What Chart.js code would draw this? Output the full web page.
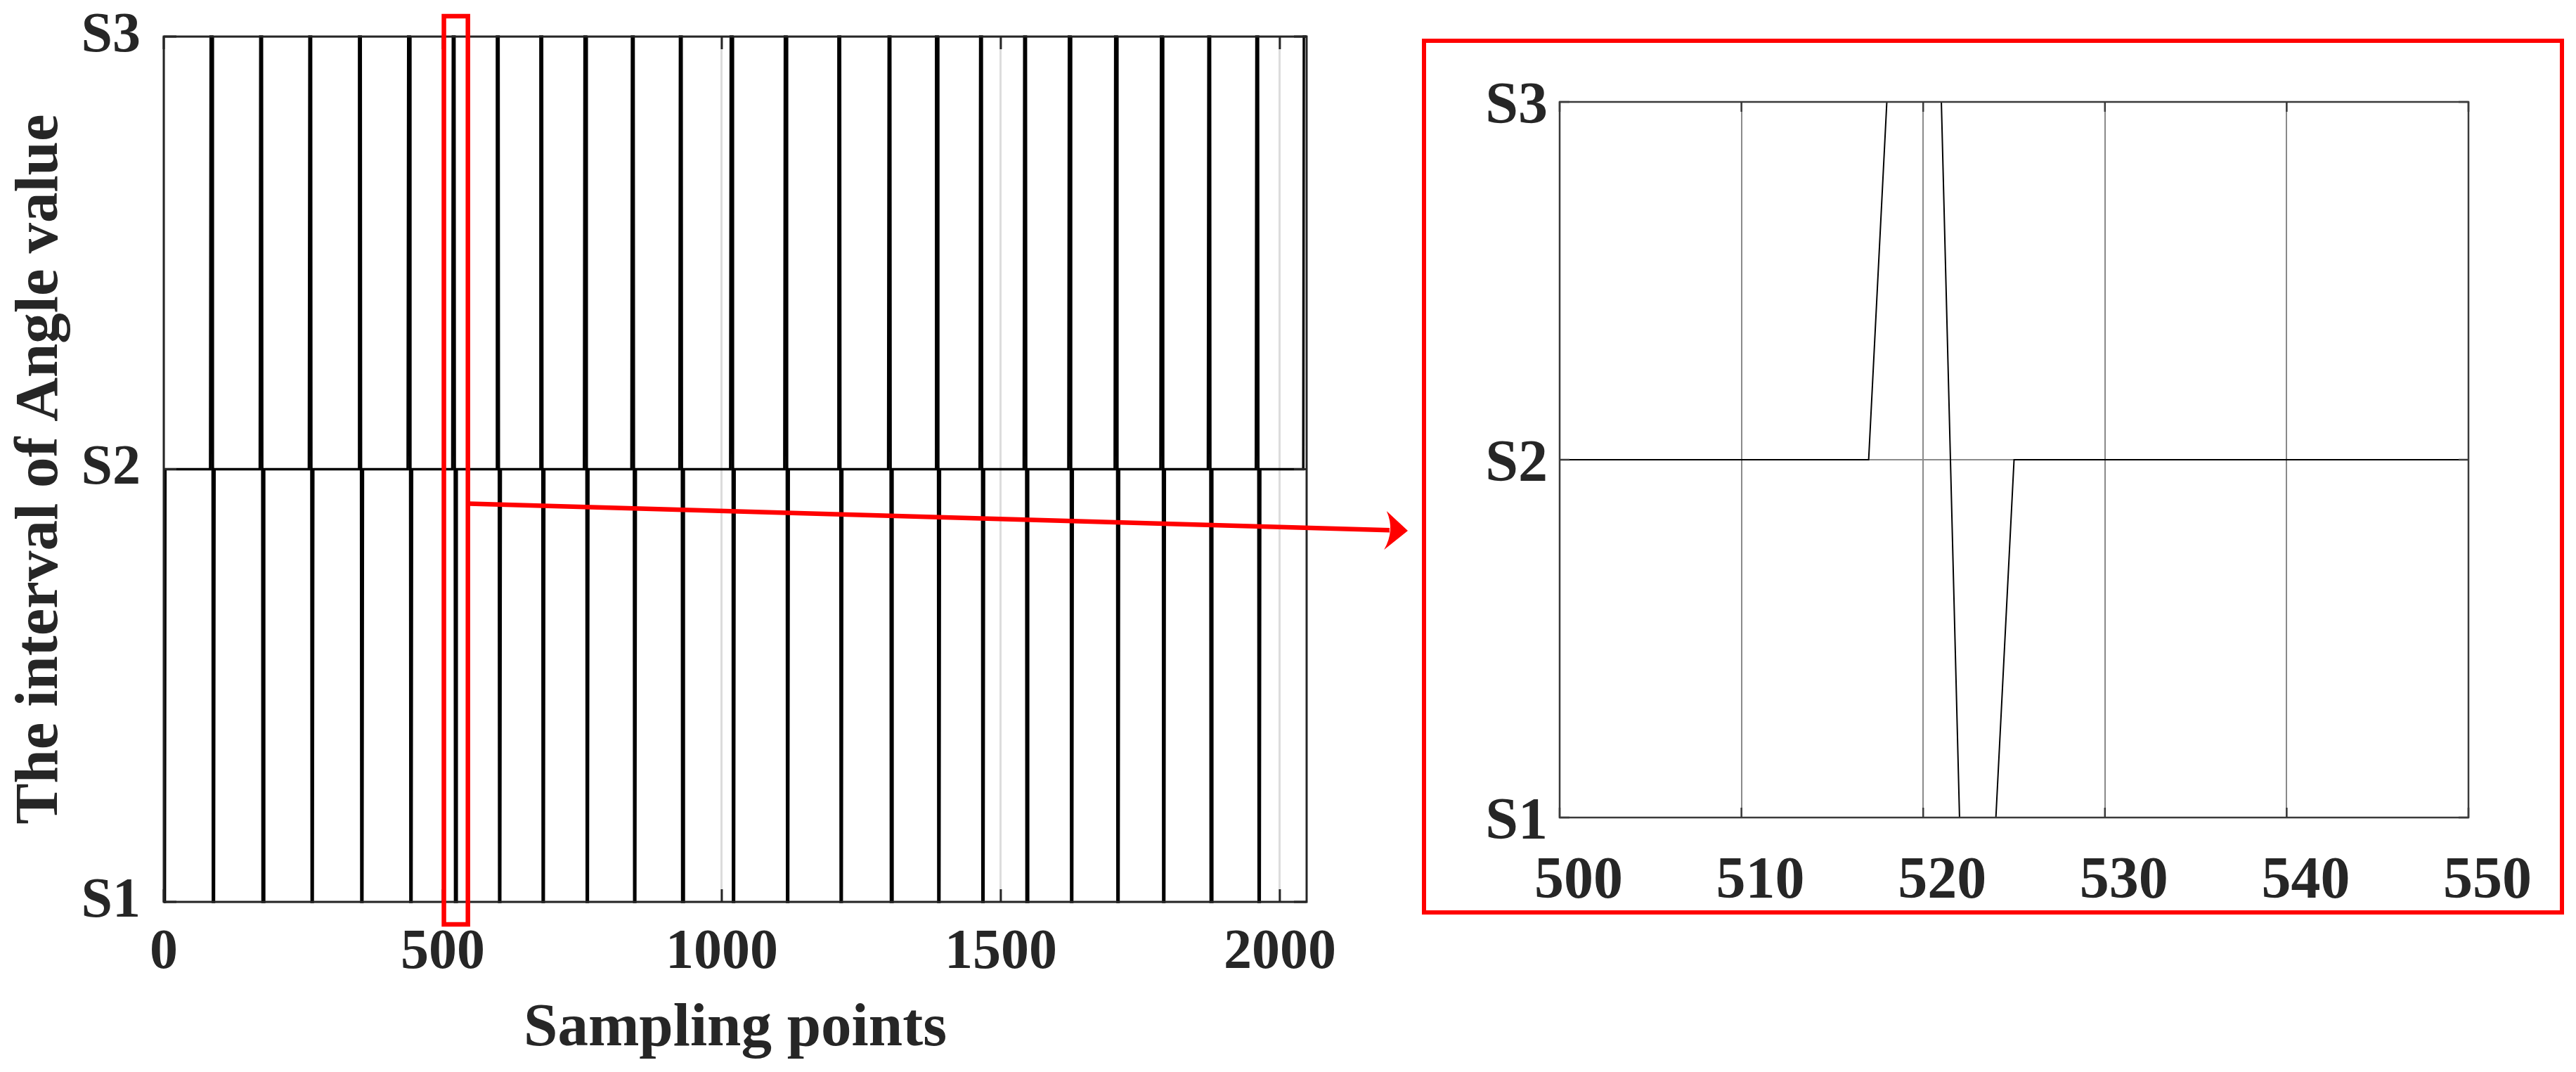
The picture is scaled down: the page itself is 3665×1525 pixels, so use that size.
<!DOCTYPE html>
<html lang="en">
<head>
<meta charset="UTF-8" />
<title>Interval of angle value vs sampling points</title>
<script src="https://cdn.jsdelivr.net/npm/chart.js"></script>
<style>
  html, body { margin: 0; padding: 0; background: #fff; }
  body { width: 3665px; height: 1525px; position: relative; overflow: hidden; }
  #mainChart { position: absolute; left: 0; top: 0; }
  #zoomFrame { position: absolute; left: 2023px; top: 55px; width: 1625px; height: 1246px;
               box-sizing: border-box; border: 6px solid #ff0000; }
  #zoomChart { position: absolute; left: 2030px; top: 62px; }
</style>
</head>
<body>
<canvas id="mainChart" width="2030" height="1525"></canvas>
<div id="zoomFrame"></div>
<canvas id="zoomChart" width="1612" height="1230"></canvas>

<script>
// signal vertices: sampling point and interval level (1 = S1, 2 = S2, 3 = S3)
const sampleIdx = [
  0, 2, 3,
  83, 84, 87, 88, 90, 91,
  172, 173, 176, 177, 179, 180,
  260, 261, 264, 265, 267, 268,
  349, 350, 353, 354, 356, 357,
  437, 438, 441, 442, 444, 445,
  517, 518, 521, 522, 524, 525,
  596, 597, 600, 601, 603, 604,
  674, 675, 678, 679, 681, 682,
  753, 754, 757, 758, 760, 761,
  838, 839, 842, 843, 845, 846,
  924, 925, 928, 929, 931, 932,
  1015, 1016, 1019, 1020, 1022, 1023,
  1112, 1113, 1116, 1117, 1119, 1120,
  1208, 1209, 1212, 1213, 1215, 1216,
  1298, 1299, 1302, 1303, 1305, 1306,
  1383, 1384, 1387, 1388, 1390, 1391,
  1462, 1463, 1466, 1467, 1469, 1470,
  1541, 1542, 1545, 1546, 1548, 1549,
  1621, 1622, 1625, 1626, 1628, 1629,
  1704, 1705, 1708, 1709, 1711, 1712,
  1786, 1787, 1790, 1791, 1793, 1794,
  1871, 1872, 1875, 1876, 1878, 1879,
  1957, 1958, 1961, 1962, 1964, 1965,
  2042, 2043, 2048
];
const levelVal = [
  1, 1, 2,
  2, 3, 3, 1, 1, 2,
  2, 3, 3, 1, 1, 2,
  2, 3, 3, 1, 1, 2,
  2, 3, 3, 1, 1, 2,
  2, 3, 3, 1, 1, 2,
  2, 3, 3, 1, 1, 2,
  2, 3, 3, 1, 1, 2,
  2, 3, 3, 1, 1, 2,
  2, 3, 3, 1, 1, 2,
  2, 3, 3, 1, 1, 2,
  2, 3, 3, 1, 1, 2,
  2, 3, 3, 1, 1, 2,
  2, 3, 3, 1, 1, 2,
  2, 3, 3, 1, 1, 2,
  2, 3, 3, 1, 1, 2,
  2, 3, 3, 1, 1, 2,
  2, 3, 3, 1, 1, 2,
  2, 3, 3, 1, 1, 2,
  2, 3, 3, 1, 1, 2,
  2, 3, 3, 1, 1, 2,
  2, 3, 3, 1, 1, 2,
  2, 3, 3, 1, 1, 2,
  2, 3, 3, 1, 1, 2,
  2, 3, 3
];

const levelTicks = [1, 2, 3];
const levelLabels = ['S1', 'S2', 'S3'];
const mainRange = [0, 2048];
const mainXTicks = [0, 500, 1000, 1500, 2000];
const zoomRange = [500, 550];
const zoomXTicks = [500, 510, 520, 530, 540, 550];
const zoomBox = [502, 545];   // red marker on the main plot

const serif = "'Liberation Serif', 'Times New Roman', serif";
Chart.defaults.font.family = serif;
Chart.defaults.color = '#262626';

const points = sampleIdx.map((v, i) => ({ x: v, y: levelVal[i] }));
const levelLabel = v => levelLabels[levelTicks.indexOf(v)];
const plainNum = v => String(v);

// fixed axis sizes so the plot boxes land where the figure has them
const fixHeight = h => s => { s.height = h; s.paddingLeft = 0; s.paddingRight = 0; };
const fixWidth = w => s => { s.width = w; s.paddingTop = 0; s.paddingBottom = 0; };

// axis box with inward tick marks, matlab style
const axisFrame = {
  id: 'axisFrame',
  afterDraw(chart, args, opts) {
    const { ctx, chartArea: a, scales: { x, y } } = chart;
    ctx.save();
    ctx.strokeStyle = opts.color;
    ctx.lineWidth = opts.width;
    ctx.beginPath();
    x.ticks.forEach(t => {
      const px = x.getPixelForValue(t.value);
      ctx.moveTo(px, a.bottom); ctx.lineTo(px, a.bottom - opts.tick);
      ctx.moveTo(px, a.top); ctx.lineTo(px, a.top + opts.tick);
    });
    y.ticks.forEach(t => {
      const py = y.getPixelForValue(t.value);
      ctx.moveTo(a.left, py); ctx.lineTo(a.left + opts.tick, py);
      ctx.moveTo(a.right, py); ctx.lineTo(a.right - opts.tick, py);
    });
    ctx.stroke();
    ctx.strokeRect(a.left, a.top, a.right - a.left, a.bottom - a.top);
    ctx.restore();
  }
};

// red box on the main plot and the arrow pointing at the zoomed view
const zoomMarker = {
  id: 'zoomMarker',
  afterDraw(chart) {
    const { ctx, chartArea: a, scales: { x, y } } = chart;
    const left = x.getPixelForValue(zoomBox[0]);
    const right = x.getPixelForValue(zoomBox[1]);
    ctx.save();
    ctx.strokeStyle = '#ff0000';
    ctx.fillStyle = '#ff0000';
    ctx.lineWidth = 6.5;
    ctx.strokeRect(left, a.top - 29, right - left, a.bottom - a.top + 61);

    const sx = right + 2, sy = y.getPixelForValue(2) + 49;
    const tx = 2003, ty = 755;
    const ang = Math.atan2(ty - sy, tx - sx);
    ctx.beginPath();
    ctx.moveTo(sx, sy);
    ctx.lineTo(tx - 26 * Math.cos(ang), ty - 26 * Math.sin(ang));
    ctx.stroke();
    ctx.translate(tx, ty);
    ctx.rotate(ang);
    ctx.beginPath();
    ctx.moveTo(0, 0);
    ctx.lineTo(-31, -27);
    ctx.quadraticCurveTo(-18, 0, -33, 28);
    ctx.closePath();
    ctx.fill();
    ctx.restore();
  }
};

new Chart(document.getElementById('mainChart'), {
  type: 'line',
  data: {
    datasets: [{
      data: points,
      borderColor: '#000000',
      borderWidth: 3.5,
      pointRadius: 0,
      tension: 0,
      fill: false,
      clip: { left: 0, right: 0, top: 4, bottom: 4 }
    }]
  },
  options: {
    responsive: false,
    animation: false,
    events: [],
    layout: { padding: { left: 0, top: 52, right: 171, bottom: 0 } },
    plugins: {
      legend: { display: false },
      tooltip: { enabled: false },
      axisFrame: { color: '#262626', width: 3, tick: 18 }
    },
    scales: {
      x: {
        type: 'linear',
        min: mainRange[0],
        max: mainRange[1],
        afterBuildTicks: s => { s.ticks = mainXTicks.map(v => ({ value: v })); },
        afterFit: fixHeight(242),
        grid: { color: '#dcdcdc', lineWidth: 3, drawTicks: false },
        border: { display: false },
        ticks: { padding: 25, autoSkip: false, maxRotation: 0, callback: plainNum,
                 font: { size: 80, weight: 'bold' } },
        title: {
          display: true,
          text: 'Sampling points',
          font: { size: 87, weight: 'bold' },
          padding: { top: 0, bottom: 8 }
        }
      },
      y: {
        min: 1,
        max: 3,
        afterBuildTicks: s => { s.ticks = levelTicks.map(v => ({ value: v })); },
        afterFit: fixWidth(233),
        grid: { color: '#dcdcdc', lineWidth: 3, drawTicks: false },
        border: { display: false },
        ticks: { padding: 33, font: { size: 80, weight: 'bold' }, callback: levelLabel },
        title: {
          display: true,
          text: 'The interval of Angle value',
          font: { size: 87, weight: 'bold' },
          padding: { top: 6, bottom: 0 }
        }
      }
    }
  },
  plugins: [axisFrame, zoomMarker]
});

new Chart(document.getElementById('zoomChart'), {
  type: 'line',
  data: {
    datasets: [{
      data: points,
      borderColor: '#000000',
      borderWidth: 2,
      pointRadius: 0,
      tension: 0,
      fill: false,
      clip: { left: 0, right: 0, top: 3, bottom: 3 }
    }]
  },
  options: {
    responsive: false,
    animation: false,
    events: [],
    layout: { padding: { left: 0, top: 83, right: 130, bottom: 0 } },
    plugins: {
      legend: { display: false },
      tooltip: { enabled: false },
      axisFrame: { color: '#3a3a3a', width: 2.5, tick: 14 }
    },
    scales: {
      x: {
        type: 'linear',
        min: zoomRange[0],
        max: zoomRange[1],
        afterBuildTicks: s => { s.ticks = zoomXTicks.map(v => ({ value: v })); },
        afterFit: fixHeight(129),
        grid: { color: '#8a8a8a', lineWidth: 2, drawTicks: false },
        border: { display: false },
        ticks: { padding: 42, labelOffset: 27, autoSkip: false, maxRotation: 0, callback: plainNum,
                 font: { size: 84, weight: 'bold' } }
      },
      y: {
        min: 1,
        max: 3,
        afterBuildTicks: s => { s.ticks = levelTicks.map(v => ({ value: v })); },
        afterFit: fixWidth(189),
        grid: { color: '#8a8a8a', lineWidth: 2, drawTicks: false },
        border: { display: false },
        ticks: { padding: 17, labelOffset: 8, font: { size: 84, weight: 'bold' }, callback: levelLabel }
      }
    }
  },
  plugins: [axisFrame]
});
</script>
</body>
</html>
